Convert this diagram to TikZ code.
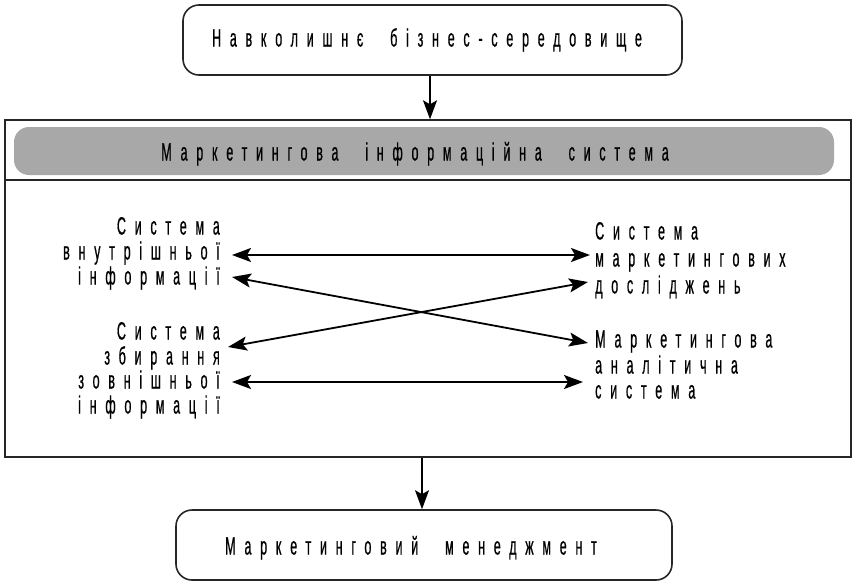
\documentclass[tikz,border=0pt]{standalone}
\usepackage{fontspec}
\setmainfont{Liberation Sans}[FakeStretch=0.5,LetterSpace=35,WordSpace=2.2,FakeBold=0.6]
\usetikzlibrary{arrows.meta}
\definecolor{bargray}{RGB}{168,168,168}
\tikzset{
  box/.style={draw=black!85, line width=1.6pt, rounded corners=16pt},
  lbl/.style={font=\fontsize{25}{25}\selectfont, inner sep=0pt, text=black, text height=11pt, text depth=2pt},
  arr/.style={line width=1.8pt, -{Stealth[length=19pt,width=14pt,inset=4pt]}},
  darr/.style={line width=1.8pt, {Stealth[length=19pt,width=14pt,inset=4pt]}-{Stealth[length=19pt,width=14pt,inset=4pt]}}
}
\begin{document}
\begin{tikzpicture}[x=1pt,y=-1pt]
\useasboundingbox (0,0) rectangle (856,584);
% top box
\node[box, minimum width=499pt, minimum height=70pt] (env) at (432.5,40) {};
\node[lbl] (envt) at (427,42) {Навколишнє бізнес-середовище};
% outer frame
\node[draw=black!85, line width=1.4pt, minimum width=846pt, minimum height=337pt, inner sep=0pt] (mis) at (428,288.5) {};
\coordinate (divL) at (5,180);
\coordinate (divR) at (851,180);
\draw[line width=1.4pt, black!85] (divL) -- (divR);
% gray bar
\node[fill=bargray, rounded corners=15pt, minimum width=820pt, minimum height=48pt, inner sep=0pt] (bar) at (424,151) {};
\node[lbl] (bart) at (415,156) {Маркетингова інформаційна система};
% left texts
\node[lbl, anchor=east] (i1) at (220,230) {Система};
\node[lbl, anchor=east] (i2) at (220,255) {внутрішньої};
\node[lbl, anchor=east] (i3) at (220,280) {інформації};
\node[lbl, anchor=east] (e1) at (220,335) {Система};
\node[lbl, anchor=east] (e2) at (220,360) {збирання};
\node[lbl, anchor=east] (e3) at (220,384) {зовнішньої};
\node[lbl, anchor=east] (e4) at (220,409) {інформації};
% right texts
\node[lbl, anchor=west] (r1) at (595,235) {Система};
\node[lbl, anchor=west] (r2) at (595,262) {маркетингових};
\node[lbl, anchor=west] (r3) at (595,289) {досліджень};
\node[lbl, anchor=west] (a1) at (595,343) {Маркетингова};
\node[lbl, anchor=west] (a2) at (595,369) {аналітична};
\node[lbl, anchor=west] (a3) at (595,394) {система};
% bottom box
\node[box, minimum width=496pt, minimum height=70pt] (mgmt) at (424,545) {};
\node[lbl] (mgmtt) at (411,550) {Маркетинговий менеджмент};
% arrows
\draw[arr] (env.south -| 430,0) -- (mis.north -| 430,0);
\draw[arr] (mis.south -| 422,0) -- (mgmt.north -| 422,0);
\draw[darr] ([xshift=12pt]i2.east) -- ([xshift=-5pt,yshift=7pt]r2.west);
\draw[darr] ([xshift=12pt,yshift=3pt]i3.east) -- ([xshift=-7pt]a1.west);
\draw[darr] ([xshift=8pt,yshift=-12pt]e1.east) -- ([xshift=-7pt,yshift=7pt]r3.west);
\draw[darr] ([xshift=12pt,yshift=2pt]e3.east) -- ([xshift=-12pt,yshift=-13pt]a2.west);
\end{tikzpicture}
\end{document}
